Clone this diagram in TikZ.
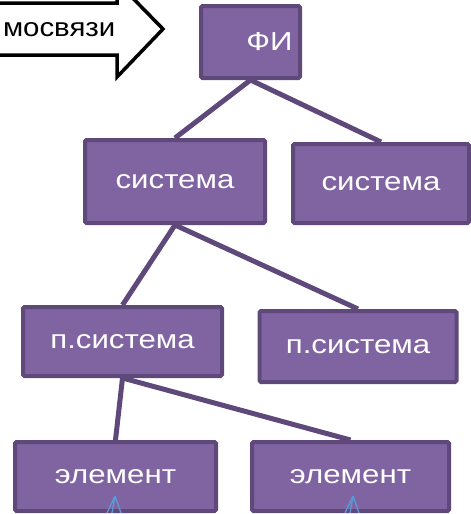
\documentclass[tikz,border=0pt]{standalone}
\usepackage{fontspec}
\usepackage{graphicx}
\setmainfont{Liberation Sans}
\usetikzlibrary{backgrounds}
\definecolor{boxfill}{HTML}{8064A2}
\definecolor{boxline}{HTML}{5F497A}
\definecolor{tipblue}{HTML}{5B9BD5}
% labels are set slightly widened
\newcommand{\widelabel}[1]{\scalebox{1.2}[1]{#1}}
\begin{document}
\begin{tikzpicture}[x=1pt,y=-1pt,
  unit/.style={draw=boxline, fill=boxfill, line width=4pt, rounded corners=1.5pt,
    text=white, font=\fontsize{26}{30}\selectfont, inner sep=0pt},
  link/.style={draw=boxline, line width=5pt},
  tipline/.style={draw=tipblue, line width=1.3pt}]
\useasboundingbox (0,0) rectangle (471,514);
\clip (0,0) rectangle (471,514);

% block arrow pointing at the root
\draw[line width=3.5pt, fill=white, line join=miter]
  (-10,3) -- (117,3) -- (117,-18) -- (163,29) -- (117,77) -- (117,55) -- (-10,55) -- cycle;
\node[anchor=east, font=\fontsize{26}{30}\selectfont, inner sep=0pt] (arrowtext) at (115.5,30) {\scalebox{1.13}[1]{мосвязи}};

% hierarchy
\node[unit, minimum width=99pt,  minimum height=72pt] (fi)  at (250.5,42)  {\hspace*{38pt}\widelabel{ФИ}};
\node[unit, minimum width=180pt, minimum height=83pt] (s1)  at (175,181.5) {\widelabel{система}};
\node[unit, minimum width=176pt, minimum height=79pt] (s2)  at (381,183.5) {\widelabel{система}};
\node[unit, minimum width=199pt, minimum height=69pt] (p1)  at (122.5,341.5) {\widelabel{п.система}};
\node[unit, minimum width=197pt, minimum height=71pt] (p2)  at (358,346.5) {\widelabel{п.система}};
\node[unit, minimum width=201pt, minimum height=69pt] (e1)  at (115.5,476.5) {\widelabel{элемент}};
\node[unit, minimum width=197pt, minimum height=69pt] (e2)  at (350.5,476.5) {\widelabel{элемент}};

\begin{pgfonlayer}{background}
  \draw[link] (fi.south) -- (s1.north);
  \draw[link] (fi.south) -- (s2.north);
  \draw[link] (s1.south) -- (p1.north);
  \draw[link] (s1.south) -- (p2.north);
  \draw[link] (p1.south) -- (e1.north);
  \draw[link] (p1.south) -- (e2.north);
\end{pgfonlayer}

% thin blue tips rising from below
\coordinate (t1) at (115,496);
\coordinate (t2) at (353,496);
\foreach \t in {t1,t2}{
  \draw[tipline] (\t) -- ++(-8,17);
  \draw[tipline] (\t) -- ++(-3,17);
  \draw[tipline] (\t) -- ++(6,17);
}
\end{tikzpicture}
\end{document}
